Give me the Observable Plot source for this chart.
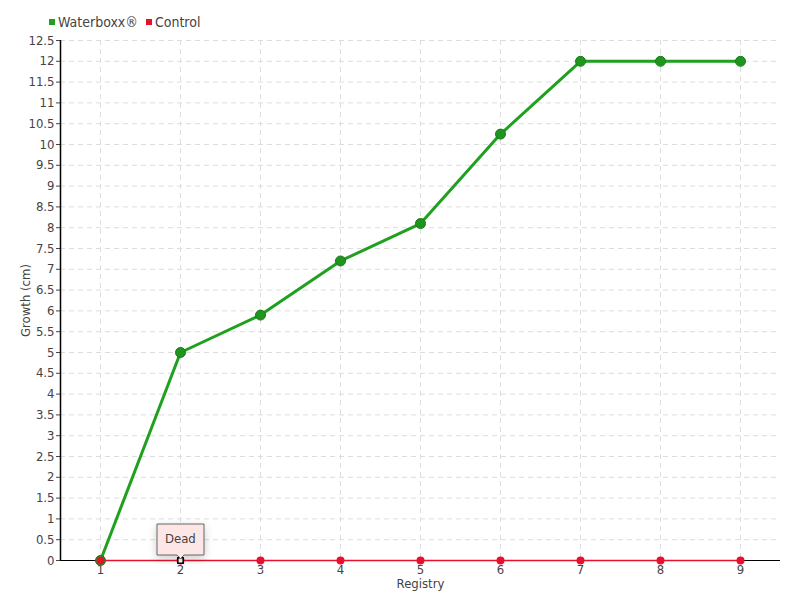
<!DOCTYPE html>
<html><head><meta charset="utf-8">
<script src="https://cdn.jsdelivr.net/npm/d3@7"></script>
<script src="https://cdn.jsdelivr.net/npm/@observablehq/plot@0.6"></script>
<style>
body{margin:0;background:#fff;font-family:"DejaVu Sans Condensed","DejaVu Sans",sans-serif;}
#legend{height:30px;display:flex;align-items:center;padding-left:49px;padding-top:13px;box-sizing:border-box;font-size:14px;color:#444;}
#legend span.sw{display:inline-block;width:6px;height:6px;margin-right:3px;}
#legend span.it{margin-right:8px;display:inline-flex;align-items:center;}
</style></head>
<body>
<div id="legend"></div>
<div id="chart"></div>
<script>
const registry = [1, 2, 3, 4, 5, 6, 7, 8, 9];
const waterboxx = [0, 5, 5.9, 7.2, 8.1, 10.25, 12, 12, 12];
const control = [0, 0, 0, 0, 0, 0, 0, 0, 0];
const yTicks = [0,0.5,1,1.5,2,2.5,3,3.5,4,4.5,5,5.5,6,6.5,7,7.5,8,8.5,9,9.5,10,10.5,11,11.5,12,12.5];
const seriesNames = ["Waterboxx®", "Control"];
const seriesColors = ["#1fa01f", "#e8102a"];
const annotation = [{x: 2, y: 0, text: "Dead"}];

const legend = document.getElementById("legend");
seriesNames.forEach((n, i) => {
  const it = document.createElement("span"); it.className = "it";
  it.innerHTML = `<span class="sw" style="background:${seriesColors[i]}"></span>${n}`;
  legend.appendChild(it);
});

const wb = registry.map((r, i) => ({x: r, y: waterboxx[i]}));
const ct = registry.map((r, i) => ({x: r, y: control[i]}));

const chart = Plot.plot({
  width: 800, height: 570,
  marginTop: 10, marginBottom: 40, marginLeft: 60, marginRight: 20,
  style: {fontFamily: '"DejaVu Sans Condensed","DejaVu Sans",sans-serif', fontSize: "13px", color: "#444"},
  x: {domain: [0.5, 9.5]},
  y: {domain: [0, 12.5]},
  marks: [
    Plot.ruleY(yTicks.filter(d => d > 0), {stroke: "#ddd", strokeDasharray: "5,4", strokeOpacity: 1}),
    Plot.ruleX(registry, {stroke: "#ddd", strokeDasharray: "5,4", strokeOpacity: 1}),
    Plot.axisY({ticks: yTicks, tickFormat: d => String(d), tickSize: 4, tickPadding: 2, label: "Growth (cm)", labelAnchor: "center", labelArrow: "none", labelOffset: 40, fontSize: 13}),
    Plot.axisX({ticks: registry, tickFormat: d => String(d), tickSize: 3, tickPadding: 1, label: "Registry", labelAnchor: "center", labelArrow: "none", labelOffset: 27, fontSize: 13}),
    Plot.ruleX([0.5], {stroke: "#000", strokeWidth: 1.5}),
    Plot.ruleY([0], {stroke: "#000"}),
    Plot.line(ct, {x: "x", y: "y", stroke: seriesColors[1], strokeWidth: 1.5}),
    Plot.line(wb, {x: "x", y: "y", stroke: seriesColors[0], strokeWidth: 3}),
    Plot.dot(wb, {x: "x", y: "y", r: 5, fill: "#1f951f", stroke: "#1a7a1a", strokeWidth: 1}),
    Plot.dot(ct, {x: "x", y: "y", r: 4, fill: seriesColors[1]}),
    Plot.dot(annotation, {x: "x", y: "y", symbol: "square", r: 3, fill: "#fff", stroke: "#000", strokeWidth: 1.5}),
    Plot.tip(annotation, {x: "x", y: "y", title: "text", anchor: "bottom", fill: "#fde6e6", stroke: "#666", fontSize: 13, textPadding: 8, pointerSize: 7, dy: -2})
  ]
});
document.getElementById("chart").appendChild(chart);
</script>
</body></html>
